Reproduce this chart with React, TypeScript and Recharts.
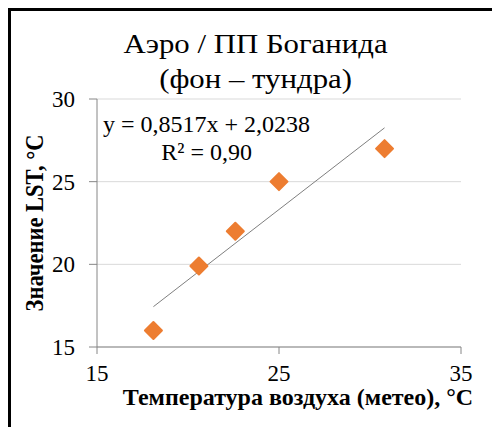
import { ScatterChart, Scatter, XAxis, YAxis, CartesianGrid, ReferenceLine } from 'recharts'

const airTemp = [18.1, 20.6, 22.6, 25.0, 30.8]
const lst = [16.0, 19.9, 22.0, 25.0, 27.0]
const xTicks = [15, 25, 35]
const yTicks = [15, 20, 25, 30]
const slope = 0.8517
const intercept = 2.0238
const r2 = '0,90'

const serif = 'Liberation Serif, Times New Roman, serif'

function Diamond(props: any) {
  const { cx, cy } = props
  const r = 8.5
  return (
    <path
      d={`M${cx},${cy - r}L${cx + r},${cy}L${cx},${cy + r}L${cx - r},${cy}Z`}
      fill="#ED7D31"
      stroke="#ED7D31"
      strokeWidth={2}
      strokeLinejoin="round"
    />
  )
}

export default function App() {
  const points = airTemp.map((x, i) => ({ x, y: lst[i] }))
  const x0 = Math.min(...airTemp)
  const x1 = Math.max(...airTemp)
  const trend = [
    { x: x0, y: slope * x0 + intercept },
    { x: x1, y: slope * x1 + intercept },
  ]
  const fmt = (v: number) => v.toFixed(4).replace('.', ',')

  return (
    <div
      style={{
        position: 'relative',
        width: 492,
        height: 419,
        boxSizing: 'border-box',
        borderTop: '3px solid #000',
        borderLeft: '3px solid #000',
        fontFamily: serif,
        background: '#fff',
      }}
    >
      <div
        style={{
          position: 'absolute',
          left: 0,
          top: 15,
          width: 489,
          textAlign: 'center',
          fontSize: 28,
          lineHeight: '35px',
          color: '#000',
          transform: 'scaleX(1.1)',
          transformOrigin: '244px 0',
        }}
      >
        Аэро / ПП Боганида
        <br />
        (фон – тундра)
      </div>
      <ScatterChart width={489} height={416} margin={{ top: 88, right: 39, bottom: 40, left: 26 }}>
        <CartesianGrid horizontal vertical={false} stroke="#d9d9d9" />
        <XAxis
          type="number"
          dataKey="x"
          domain={[15, 35]}
          ticks={xTicks}
          height={40}
          tickSize={7}
          tickMargin={11}
          stroke="#868686"
          tick={{ fill: '#000', fontSize: 23, fontFamily: serif }}
        />
        <YAxis
          type="number"
          dataKey="y"
          domain={[15, 30]}
          ticks={yTicks}
          width={60}
          tickSize={8}
          tickMargin={14}
          stroke="#868686"
          tick={{ fill: '#000', fontSize: 23, fontFamily: serif }}
        />
        <ReferenceLine segment={trend} stroke="#7f7f7f" strokeWidth={1} />
        <Scatter data={points} shape={<Diamond />} isAnimationActive={false} />
      </ScatterChart>
      <div style={{ position: 'absolute', left: 92, top: 99, fontSize: 24, lineHeight: '28px', textAlign: 'center', color: '#000' }}>
        y = {fmt(slope)}x + {fmt(intercept)}
        <br />
        R² = {r2}
      </div>
      <div style={{ position: 'absolute', left: 0, top: 373, width: 574, textAlign: 'center', fontSize: 24, fontWeight: 'bold', color: '#000', whiteSpace: 'nowrap' }}>
        Температура воздуха (метео), °С
      </div>
      <div
        style={{
          position: 'absolute',
          left: 24,
          top: 212,
          transform: 'translate(-50%, -50%) rotate(-90deg) scaleY(1.1)',
          whiteSpace: 'nowrap',
          fontSize: 22.5,
          fontWeight: 'bold',
          color: '#000',
        }}
      >
        Значение LST, °С
      </div>
    </div>
  )
}
